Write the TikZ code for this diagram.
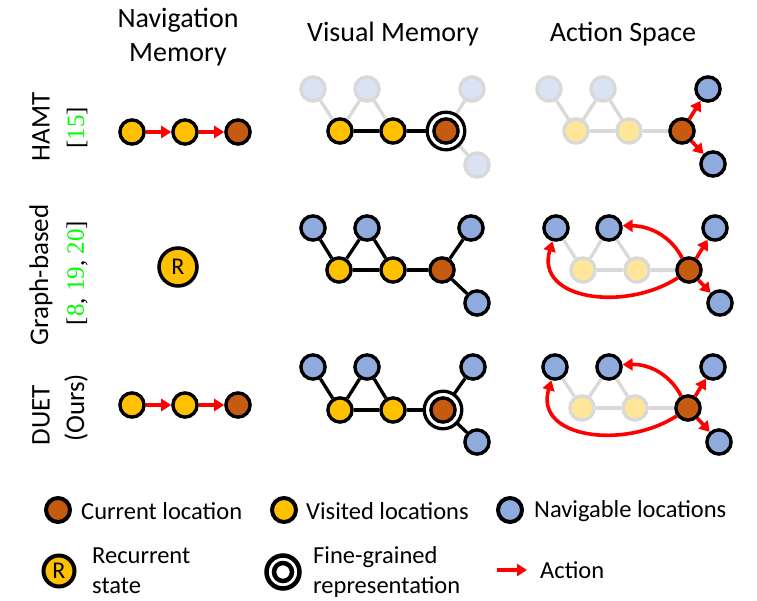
\documentclass[tikz,border=0pt]{standalone}
\usepackage{fontspec}
\setmainfont{Carlito}
\newfontfamily\citefont{Liberation Serif}
\usetikzlibrary{arrows.meta,backgrounds}
\definecolor{curc}{HTML}{C55A11}
\definecolor{visc}{HTML}{FFC000}
\definecolor{navc}{HTML}{8FAADC}
\definecolor{fadeg}{HTML}{D9D9D9}
\definecolor{fadey}{HTML}{FFE699}
\definecolor{fadeb}{HTML}{DAE3F3}
\definecolor{citeg}{HTML}{00FF00}
\definecolor{actred}{HTML}{FF0000}
\newcommand{\rlet}{{\fontsize{24}{28}\selectfont R}}
\begin{document}
\begin{tikzpicture}[x=1pt,y=-1pt,
  nd/.style={circle, draw=black, line width=3.4pt, minimum size=24.2pt, inner sep=0pt},
  ncur/.style={nd, fill=curc},
  nvis/.style={nd, fill=visc},
  nnav/.style={nd, fill=navc},
  nfvis/.style={nd, draw=fadeg, fill=fadey},
  nfnav/.style={nd, draw=fadeg, fill=fadeb},
  lgn/.style={line width=4pt, minimum size=24pt},
  ringn/.style={circle, draw=black, fill=white, line width=3.3pt, minimum size=37.6pt, inner sep=0pt},
  rnode/.style={circle, draw=black, fill=visc, line width=3.5pt, minimum size=38pt, inner sep=0pt},
  bl/.style={line width=3.3pt, black},
  gl/.style={line width=3.3pt, fadeg},
  act/.style={line width=3.6pt, actred, -{Triangle[length=10pt,width=12pt]}},
  hdr/.style={font=\fontsize{28}{34}\selectfont, align=center},
  rowl/.style={font=\fontsize{27}{32}\selectfont, rotate=90},
  citel/.style={font=\citefont\fontsize{25}{30}\selectfont, rotate=90},
  lgt/.style={font=\fontsize{24.5}{30}\selectfont, anchor=west, inner sep=0pt}
]
\useasboundingbox (0,0) rectangle (757,601);

% headers
\node[hdr] (h1) at (178,37) {Navigation\\Memory};
\node[hdr] (h2) at (393,34) {Visual Memory};
\node[hdr] (h3) at (623,34) {Action Space};

% row labels
\node[rowl] (l1a) at (41,127) {HAMT};
\node[citel] (l1b) at (77,128) {[\textcolor{citeg}{15}]};
\node[rowl] (l2a) at (41,275) {Graph-based};
\node[citel] (l2b) at (77,273) {[\textcolor{citeg}{8}, \textcolor{citeg}{19}, \textcolor{citeg}{20}]};
\node[rowl] (l3a) at (41,415) {DUET};
\node[rowl] (l3b) at (76,408) {(Ours)};

% ---------- navigation memory ----------
\node[nvis] (n1a) at (132,132) {};
\node[nvis] (n1b) at (185,132) {};
\node[ncur] (n1c) at (238,132) {};
\draw[act] (n1a) -- (n1b);
\draw[act] (n1b) -- (n1c);
\node[rnode] (n2r) at (178,267) {\rlet};
\node[nvis] (n3a) at (132,405) {};
\node[nvis] (n3b) at (185,405) {};
\node[ncur] (n3c) at (238,405) {};
\draw[act] (n3a) -- (n3b);
\draw[act] (n3b) -- (n3c);

% ---------- visual memory row 1 ----------
\node[fill=none] (v1ring) at (446,131) {};
\node[nfnav] (v1tl) at (313,89) {};
\node[nfnav] (v1tm) at (367,89) {};
\node[nvis] (v1y1) at (340,131) {};
\node[nvis] (v1y2) at (393,131) {};
\node[nfnav] (v1tr) at (472,89) {};
\node[nfnav] (v1br) at (477,165) {};
\begin{scope}[on background layer]
\draw[gl] (v1tl) -- (v1y1) -- (v1tm) -- (v1y2);
\draw[gl] (v1ring.center) -- (v1tr);
\draw[gl] (v1ring.center) -- (v1br);
\draw[bl] (v1y1) -- (v1y2) -- (v1ring.center);
\end{scope}
\node[ringn] (v1rg) at (v1ring) {};
\node[ncur] (v1c) at (v1ring) {};

% ---------- visual memory row 2 ----------
\node[nnav] (v2tl) at (313,228) {};
\node[nnav] (v2tm) at (367,228) {};
\node[nvis] (v2y1) at (339,270) {};
\node[nvis] (v2y2) at (393,270) {};
\node[ncur] (v2c) at (442,270) {};
\node[nnav] (v2tr) at (471,228) {};
\node[nnav] (v2br) at (477,303) {};
\begin{scope}[on background layer]
\draw[bl] (v2tl) -- (v2y1) -- (v2tm) -- (v2y2);
\draw[bl] (v2y1) -- (v2y2) -- (v2c);
\draw[bl] (v2c) -- (v2tr);
\draw[bl] (v2c) -- (v2br);
\end{scope}

% ---------- visual memory row 3 ----------
\node[fill=none] (v3ring) at (443,410) {};
\node[nnav] (v3tl) at (313,367) {};
\node[nnav] (v3tm) at (367,367) {};
\node[nvis] (v3y1) at (340,410) {};
\node[nvis] (v3y2) at (393,410) {};
\node[nnav] (v3tr) at (473,367) {};
\node[nnav] (v3br) at (477,442) {};
\begin{scope}[on background layer]
\draw[bl] (v3tl) -- (v3y1) -- (v3tm) -- (v3y2);
\draw[bl] (v3y1) -- (v3y2) -- (v3ring.center);
\draw[bl] (v3ring.center) -- (v3tr);
\draw[bl] (v3ring.center) -- (v3br);
\end{scope}
\node[ringn] (v3rg) at (v3ring) {};
\node[ncur] (v3c) at (v3ring) {};

% ---------- action space row 1 ----------
\node[nfnav] (a1tl) at (549,89) {};
\node[nfnav] (a1tm) at (603,89) {};
\node[nfvis] (a1y1) at (576,131) {};
\node[nfvis] (a1y2) at (629,131) {};
\node[ncur] (a1c) at (682,131) {};
\node[nnav] (a1tr) at (708,89) {};
\node[nnav] (a1br) at (713,164) {};
\begin{scope}[on background layer]
\draw[gl] (a1tl) -- (a1y1) -- (a1tm) -- (a1y2);
\draw[gl] (a1y1) -- (a1y2) -- (a1c);
\end{scope}
\draw[act] (a1c) -- (a1tr);
\draw[act] (a1c) -- (a1br);

% ---------- action space row 2 ----------
\node[nnav] (a2tl) at (556,228) {};
\node[nnav] (a2tm) at (609,228) {};
\node[nfvis] (a2y1) at (583,270) {};
\node[nfvis] (a2y2) at (637,270) {};
\node[ncur] (a2c) at (689,270) {};
\node[nnav] (a2tr) at (715,228) {};
\node[nnav] (a2br) at (720,303) {};
\begin{scope}[on background layer]
\draw[gl] (a2tl) -- (a2y1) -- (a2tm) -- (a2y2);
\draw[gl] (a2y1) -- (a2y2) -- (a2c);
\end{scope}
\draw[act] (a2c) -- (a2tr);
\draw[act] (a2c) -- (a2br);
\draw[act] (a2c.120) .. controls (672,238) and (652,226) .. (a2tm.10);
\draw[act] (a2c.215) .. controls (625,312) and (535,300) .. (a2tl.255);

% ---------- action space row 3 ----------
\node[nnav] (a3tl) at (555,367) {};
\node[nnav] (a3tm) at (609,367) {};
\node[nfvis] (a3y1) at (582,408) {};
\node[nfvis] (a3y2) at (635,408) {};
\node[ncur] (a3c) at (688,408) {};
\node[nnav] (a3tr) at (713,367) {};
\node[nnav] (a3br) at (719,442) {};
\begin{scope}[on background layer]
\draw[gl] (a3tl) -- (a3y1) -- (a3tm) -- (a3y2);
\draw[gl] (a3y1) -- (a3y2) -- (a3c);
\end{scope}
\draw[act] (a3c) -- (a3tr);
\draw[act] (a3c) -- (a3br);
\draw[act] (a3c.120) .. controls (671,376) and (651,364) .. (a3tm.10);
\draw[act] (a3c.215) .. controls (624,450) and (534,438) .. (a3tl.255);

% ---------- legend ----------
\node[ncur, lgn] (lg1) at (58,510) {};
\node[lgt] (lg1t) at (81,511) {Current location};
\node[nvis, lgn] (lg2) at (284,510) {};
\node[lgt] (lg2t) at (306,511) {Visited locations};
\node[nnav, lgn] (lg3) at (510,510) {};
\node[lgt] (lg3t) at (534,511) {Navigable locations};
\node[rnode, line width=4pt, minimum size=31pt] (lg4) at (59,571) {\rlet};
\node[lgt] (lg4a) at (92,556) {Recurrent};
\node[lgt] (lg4b) at (92,586) {state};
\node[circle, draw=black, fill=white, line width=4.5pt, minimum size=33pt, inner sep=0pt] (lg5) at (283,572) {};
\node[circle, draw=black, fill=white, line width=4.5pt, minimum size=18pt, inner sep=0pt] (lg5i) at (283,572) {};
\node[lgt] (lg5a) at (313,557) {Fine-grained};
\node[lgt] (lg5b) at (313,587) {representation};
\coordinate (lg6s) at (497,570);
\coordinate (lg6e) at (527,570);
\draw[act] (lg6s) -- (lg6e);
\node[lgt] (lg6t) at (540,570) {Action};
\end{tikzpicture}
\end{document}
